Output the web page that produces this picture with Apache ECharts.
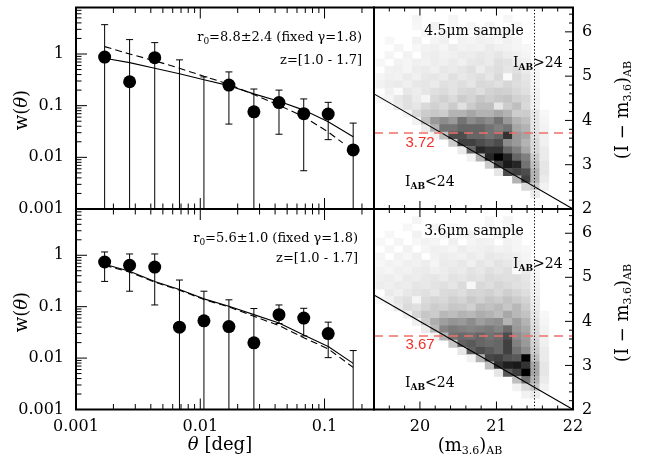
<!DOCTYPE html>
<html><head><meta charset="utf-8">
<script src="https://cdn.jsdelivr.net/npm/echarts@6/dist/echarts.min.js"></script>
<style>html,body{margin:0;padding:0;background:#fff}#c{width:649px;height:464px}</style>
</head><body><div id="c"></div>
<script>
// ---------------- data ----------------
const theta = [0.0017, 0.0027, 0.0043, 0.0068, 0.0107, 0.017, 0.027, 0.043, 0.068, 0.107, 0.17];

// 4.5um sample (top)
const w45   = [0.87, 0.29, 0.85, null, null, 0.25, 0.076, 0.115, 0.070, 0.069, 0.0139];
const w45Hi = [3.7, 1.9, 1.66, 0.77, 0.36, 0.45, 0.21, 0.20, 0.135, 0.116, 0.046];
const w45Lo = [0, 0, 0, 0, 0, 0.044, 0, 0.028, 0.0055, 0.022, 0];
const fitSolid45 = [0.83, 0.68, 0.53, 0.415, 0.318, 0.244, 0.169, 0.122, 0.082, 0.049, 0.025];
const thetaDash45 = [0.0017, 0.0027, 0.0043, 0.0068, 0.0107, 0.017, 0.027, 0.043, 0.068, 0.107, 0.14];
const fitDash45 = [1.39, 1.0, 0.74, 0.53, 0.37, 0.26, 0.164, 0.102, 0.061, 0.031, 0.019];

// 3.6um sample (bottom)
const w36   = [0.74, 0.64, 0.59, 0.040, 0.053, 0.041, 0.0198, 0.070, 0.060, 0.030, null];
const w36Hi = [1.16, 1.06, 1.06, 0.33, 0.20, 0.136, 0.092, 0.108, 0.093, 0.050, 0.014];
const w36Lo = [0.31, 0.20, 0.108, 0, 0, 0, 0, 0.047, 0.027, 0.0102, 0];
const fitSolid36 = [0.67, 0.49, 0.31, 0.216, 0.142, 0.102, 0.070, 0.048, 0.028, 0.0168, 0.0079];
const fitDash36  = [0.64, 0.47, 0.30, 0.21, 0.138, 0.099, 0.065, 0.043, 0.025, 0.0151, 0.0066];

// colour cut values
const cut45 = 3.72;
const cut36 = 3.67;
const IAB_LIMIT = 24;
const magCompleteness = 21.5;

// density maps (rows from top to bottom, columns from faint-left to right), relative density 0-100
const hm45 = [
 [0,0,0,0,0,0,0,0,0,0,0,0,0,0,0,0,0,0,0],
 [0,0,0,0,4,0,0,0,4,0,0,0,0,0,3,0,0,0,0],
 [0,0,0,0,3,0,5,0,4,0,3,0,4,0,0,3,0,0,0],
 [0,0,0,0,0,3,0,5,0,3,0,6,0,4,5,0,0,0,0],
 [0,3,0,0,5,0,4,6,0,5,4,6,5,3,6,4,0,0,0],
 [0,0,4,0,3,5,6,4,7,5,6,5,8,6,5,4,3,0,0],
 [0,4,0,5,0,6,7,5,6,8,7,9,8,10,7,6,4,0,0],
 [3,0,5,4,6,5,7,6,8,6,9,10,8,12,11,8,6,0,0],
 [0,5,6,4,7,8,6,9,8,10,12,7,11,13,10,12,8,3,0],
 [4,6,5,8,6,9,10,8,12,9,11,13,10,15,2,14,10,4,0],
 [5,7,8,6,9,10,8,12,11,13,10,15,14,12,16,13,11,4,0],
 [0,6,2,9,7,10,12,14,11,15,16,13,17,19,18,15,12,5,0],
 [3,4,9,12,8,4,15,18,14,20,17,22,19,21,23,18,16,6,0],
 [0,2,8,12,10,15,18,15,20,12,20,25,25,10,20,25,15,5,0],
 [0,0,0,5,15,20,22,20,30,30,35,30,30,35,30,20,20,10,3],
 [0,0,0,0,5,25,40,45,40,55,45,50,45,55,40,30,25,10,4],
 [0,0,0,0,0,8,30,55,55,60,60,60,55,50,55,35,30,10,5],
 [0,0,0,0,0,0,5,25,70,70,60,60,55,60,80,40,35,12,6],
 [0,0,0,0,0,0,0,0,20,75,75,70,65,70,45,40,30,15,6],
 [0,0,0,0,0,0,0,0,0,8,60,85,80,80,60,50,35,15,8],
 [0,0,0,0,0,0,0,0,0,0,5,30,85,100,85,60,50,20,8],
 [0,0,0,0,0,0,0,0,0,0,0,0,20,75,90,85,55,25,10],
 [0,0,0,0,0,0,0,0,0,0,0,0,0,10,70,75,70,30,10],
 [0,0,0,0,0,0,0,0,0,0,0,0,0,0,0,30,75,30,8],
 [0,0,0,0,0,0,0,0,0,0,0,0,0,0,0,0,15,20,5],
 [0,0,0,0,0,0,0,0,0,0,0,0,0,0,0,0,0,8,0],
 [0,0,0,0,0,0,0,0,0,0,0,0,0,0,0,0,0,0,0]
];
const hm36 = [
 [0,0,0,0,0,0,0,0,0,0,0,0,0,0,0,0,0,0,0],
 [0,0,0,0,4,0,0,0,0,0,0,0,3,0,4,0,0,0,0],
 [0,0,0,3,0,0,4,0,3,0,0,0,4,0,3,0,0,0,0],
 [0,3,0,0,5,0,0,4,0,3,5,0,0,4,0,5,0,0,0],
 [3,0,4,0,3,5,4,0,6,0,4,6,5,0,5,4,0,0,0],
 [0,4,0,5,0,4,6,5,4,7,5,6,7,5,6,4,3,0,0],
 [4,0,5,3,6,0,5,7,6,5,8,6,9,8,7,6,4,0,0],
 [3,5,4,6,5,7,4,8,7,9,6,10,8,11,9,7,5,0,0],
 [5,4,6,5,7,8,6,7,9,8,11,9,12,10,12,2,8,3,0],
 [6,7,5,8,7,9,10,8,11,10,12,11,14,13,12,13,10,4,0],
 [7,6,8,7,10,9,11,12,10,14,3,15,13,16,14,12,11,5,0],
 [0,8,6,9,11,12,10,14,15,13,17,16,18,15,19,16,13,6,0],
 [3,5,10,12,4,14,16,15,19,17,21,18,22,20,24,20,17,7,0],
 [0,2,8,14,12,16,20,18,22,21,18,26,24,27,22,28,20,8,0],
 [0,0,0,6,16,22,20,28,26,30,28,32,30,26,34,28,24,10,3],
 [0,0,0,0,6,20,32,38,42,40,45,38,42,44,30,38,30,12,4],
 [0,0,0,0,0,8,28,48,52,50,48,50,52,48,58,40,34,14,5],
 [0,0,0,0,0,0,5,30,55,58,56,60,55,58,70,45,38,15,6],
 [0,0,0,0,0,0,0,0,22,62,65,60,58,60,75,50,40,18,6],
 [0,0,0,0,0,0,0,0,0,10,62,70,65,60,75,55,45,20,8],
 [0,0,0,0,0,0,0,0,0,0,5,30,72,75,68,65,100,25,8],
 [0,0,0,0,0,0,0,0,0,0,0,0,25,80,88,90,80,35,10],
 [0,0,0,0,0,0,0,0,0,0,0,0,0,10,65,75,100,35,10],
 [0,0,0,0,0,0,0,0,0,0,0,0,0,0,0,25,55,30,8],
 [0,0,0,0,0,0,0,0,0,0,0,0,0,0,0,5,15,22,5],
 [0,0,0,0,0,0,0,0,0,0,0,0,0,0,0,0,5,8,0],
 [0,0,0,0,0,0,0,0,0,0,0,0,0,0,0,0,0,0,0]
];

// tick values
const logMajorX = [0.001, 0.01, 0.1];
const logMajorY = [0.001, 0.01, 0.1, 1];
const magMajor = [20, 21, 22];
const colMajor = [2, 3, 4, 5, 6];

// ---------------- layout / style constants ----------------
const HM_X0 = 19.42, HM_DX = 0.119, HM_Y0 = 2.097, HM_DY = 0.165;
const SERIF = 'DejaVu Serif';
const TH_RANGE = [0.001, 0.25];
const W_RANGE = [0.001, Math.pow(10, 0.9)];
const MAG_RANGE = [19.4, 22];
const COL_RANGE = [2, 6.55];

function minorLog(from, to) {
  const out = [];
  for (let e = from; e <= to; e++) for (let m = 2; m <= 9; m++) out.push(Number((m * Math.pow(10, e)).toPrecision(2)));
  return out;
}
const logMinorX = minorLog(-3, -1).filter(v => v < TH_RANGE[1]);
const logMinorY = minorLog(-3, 0).filter(v => v < W_RANGE[1]);
function minorLin(a, b, step, skip) {
  const out = [];
  for (let v = a; v <= b + 1e-9; v += step) { const r = Math.round(v * 10) / 10; if (!skip.includes(r)) out.push(r); }
  return out;
}
const magMinor = minorLin(19.6, 21.8, 0.2, magMajor);
const colMinor = minorLin(2.2, 6.4, 0.2, colMajor);

function cells(matrix) {
  const out = [];
  const n = matrix.length;
  matrix.forEach((row, r) => {
    const k = n - 1 - r;
    row.forEach((v, i) => { if (v > 0) out.push([HM_X0 + HM_DX * (i + 0.5), HM_Y0 + HM_DY * (k + 0.5), v]); });
  });
  return out;
}

function heatSeries(idx, matrix) {
  return {
    type: 'custom', xAxisIndex: idx, yAxisIndex: idx, clip: true, z: 1, silent: true,
    data: cells(matrix),
    renderItem(params, api) {
      const x = api.value(0), y = api.value(1), v = api.value(2);
      const p0 = api.coord([x - HM_DX / 2, y + HM_DY / 2]);
      const p1 = api.coord([x + HM_DX / 2, y - HM_DY / 2]);
      const g = Math.round(255 * (1 - v / 100));
      return { type: 'rect', shape: { x: p0[0], y: p0[1], width: p1[0] - p0[0] + 0.6, height: p1[1] - p0[1] + 0.6 },
        style: { fill: 'rgb(' + g + ',' + g + ',' + g + ')' } };
    }
  };
}

function tickSeries(idx, dim, values, len, sides, ref) {
  return {
    type: 'custom', xAxisIndex: idx, yAxisIndex: idx, clip: false, silent: true, z: 6,
    data: values.map(v => dim === 'x' ? [v, ref] : [ref, v]),
    renderItem(params, api) {
      const cs = params.coordSys;
      const p = api.coord([api.value(0), api.value(1)]);
      const st = { stroke: '#000', lineWidth: 1 };
      const ch = [];
      if (dim === 'x') {
        const b = cs.y + cs.height;
        if (sides.indexOf('b') >= 0) ch.push({ type: 'line', shape: { x1: p[0], y1: b, x2: p[0], y2: b - len }, style: st });
        if (sides.indexOf('t') >= 0) ch.push({ type: 'line', shape: { x1: p[0], y1: cs.y, x2: p[0], y2: cs.y + len }, style: st });
      } else {
        const r = cs.x + cs.width;
        if (sides.indexOf('l') >= 0) ch.push({ type: 'line', shape: { x1: cs.x, y1: p[1], x2: cs.x + len, y2: p[1] }, style: st });
        if (sides.indexOf('r') >= 0) ch.push({ type: 'line', shape: { x1: r, y1: p[1], x2: r - len, y2: p[1] }, style: st });
      }
      return { type: 'group', children: ch };
    }
  };
}

function errorSeries(idx, xs, lo, hi) {
  return {
    type: 'custom', xAxisIndex: idx, yAxisIndex: idx, clip: true, z: 3, silent: true,
    encode: { x: 0, y: 2 },
    data: xs.map((t, i) => [t, lo[i], hi[i]]),
    renderItem(params, api) {
      const cs = params.coordSys;
      const x = api.value(0), l = api.value(1), h = api.value(2);
      const top = api.coord([x, h]);
      const px = top[0];
      const by = l > 0 ? api.coord([x, l])[1] : cs.y + cs.height;
      const st = { stroke: '#000', lineWidth: 1 };
      const cap = 3.5;
      const ch = [
        { type: 'line', shape: { x1: px, y1: top[1], x2: px, y2: by }, style: st },
        { type: 'line', shape: { x1: px - cap, y1: top[1], x2: px + cap, y2: top[1] }, style: st }
      ];
      if (l > 0) ch.push({ type: 'line', shape: { x1: px - cap, y1: by, x2: px + cap, y2: by }, style: st });
      return { type: 'group', children: ch };
    }
  };
}

function lineSeries(idx, xs, ys, dashed) {
  return {
    type: 'line', xAxisIndex: idx, yAxisIndex: idx, z: 4, silent: true, symbol: 'none',
    data: xs.map((t, i) => [t, ys[i]]),
    lineStyle: { color: '#000', width: 1.1, type: dashed ? [7, 4] : 'solid', opacity: 1 }
  };
}
function pointSeries(idx, xs, ys) {
  return {
    type: 'scatter', xAxisIndex: idx, yAxisIndex: idx, z: 5, silent: true, symbol: 'circle', symbolSize: 13,
    itemStyle: { color: '#000', opacity: 1, borderWidth: 0 },
    data: xs.map((t, i) => [t, ys[i]])
  };
}
function limitSeries(idx, cut) {
  return {
    type: 'line', xAxisIndex: idx, yAxisIndex: idx, z: 4, silent: true, symbol: 'none',
    data: MAG_RANGE.map(m => [m, IAB_LIMIT - m]),
    lineStyle: { color: '#000', width: 1.1, opacity: 1 },
    markLine: {
      silent: true, symbol: ['none', 'none'], label: { show: false }, animation: false,
      data: [
        { xAxis: magCompleteness, lineStyle: { color: '#000', width: 1, type: [1.3, 2], opacity: 1 } },
        { yAxis: cut, lineStyle: { color: '#f0706a', width: 1.6, type: [9, 6], opacity: 1 } }
      ]
    }
  };
}

function logFmt(v) {
  const l = Math.log10(v);
  if (Math.abs(l - Math.round(l)) > 1e-6) return '';
  return String(Number(v.toPrecision(1)));
}
const lab = { color: '#000', fontFamily: SERIF, fontSize: 16 };
const off = { axisLine: { show: false }, axisTick: { show: false }, splitLine: { show: false }, minorTick: { show: false } };

function logX(g, showLabel) {
  return Object.assign({ gridIndex: g, type: 'log', logBase: 10, min: TH_RANGE[0], max: TH_RANGE[1],
    axisLabel: Object.assign({ show: showLabel, formatter: logFmt, margin: 9, showMaxLabel: false }, lab) }, off);
}
function logY(g) {
  return Object.assign({ gridIndex: g, type: 'log', logBase: 10, min: W_RANGE[0], max: W_RANGE[1],
    axisLabel: Object.assign({ show: true, formatter: logFmt, margin: 12, showMaxLabel: false }, lab) }, off);
}
function magX(g, showLabel) {
  return Object.assign({ gridIndex: g, type: 'value', min: MAG_RANGE[0], max: MAG_RANGE[1],
    axisLabel: Object.assign({ show: showLabel, customValues: magMajor, formatter: v => String(v), margin: 9 }, lab) }, off);
}
function colY(g) {
  return Object.assign({ gridIndex: g, type: 'value', position: 'right', min: COL_RANGE[0], max: COL_RANGE[1],
    axisLabel: Object.assign({ show: true, customValues: colMajor, formatter: v => String(v), margin: 9 }, lab) }, off);
}

const gridBase = { show: true, borderColor: '#000', borderWidth: 2, backgroundColor: 'transparent', z: 8, outerBoundsMode: 'none', containLabel: false };

const txt = (x, y, text, extra) => ({
  type: 'text', x: x, y: y, z: 100, silent: true,
  rotation: extra && extra.rot || 0,
  style: Object.assign({ text: text, fill: '#000', fontFamily: SERIF, fontSize: 18, align: 'center', verticalAlign: 'middle' }, extra && extra.style || {})
});
const richAxis = {
  i: { fontFamily: SERIF, fontSize: 18, fontStyle: 'italic' },
  s: { fontFamily: SERIF, fontSize: 11, padding: [10, 0, 0, 0] }
};
const richSmall = {
  s: { fontFamily: SERIF, fontSize: 9, padding: [8, 0, 0, 0] },
  b: { fontFamily: SERIF, fontSize: 9, fontWeight: 'bold', padding: [9, 0, 0, 0] }
};

const option = {
  animation: false,
  backgroundColor: '#fff',
  grid: [
    Object.assign({ left: 76, top: 7.5, width: 298, height: 201.5 }, gridBase),
    Object.assign({ left: 76, top: 209, width: 298, height: 200.5 }, gridBase),
    Object.assign({ left: 374, top: 7.5, width: 199, height: 201.5 }, gridBase),
    Object.assign({ left: 374, top: 209, width: 199, height: 200.5 }, gridBase)
  ],
  xAxis: [logX(0, false), logX(1, true), magX(2, false), magX(3, true)],
  yAxis: [logY(0), logY(1), colY(2), colY(3)],
  series: [
    // top-left
    errorSeries(0, theta, w45Lo, w45Hi),
    lineSeries(0, theta, fitSolid45, false),
    lineSeries(0, thetaDash45, fitDash45, true),
    pointSeries(0, theta, w45),
    // bottom-left
    errorSeries(1, theta, w36Lo, w36Hi),
    lineSeries(1, theta, fitSolid36, false),
    lineSeries(1, theta, fitDash36, true),
    pointSeries(1, theta, w36),
    // right panels
    heatSeries(2, hm45),
    limitSeries(2, cut45),
    heatSeries(3, hm36),
    limitSeries(3, cut36),
    // ticks left panels
    tickSeries(0, 'x', logMajorX, 11, 'bt', 1), tickSeries(0, 'x', logMinorX, 5.5, 'bt', 1),
    tickSeries(0, 'y', logMajorY, 11, 'l', 0.01), tickSeries(0, 'y', logMinorY, 5.5, 'l', 0.01),
    tickSeries(1, 'x', logMajorX, 11, 'bt', 1), tickSeries(1, 'x', logMinorX, 5.5, 'bt', 1),
    tickSeries(1, 'y', logMajorY, 11, 'l', 0.01), tickSeries(1, 'y', logMinorY, 5.5, 'l', 0.01),
    // ticks right panels
    tickSeries(2, 'x', magMajor, 8, 'bt', 3), tickSeries(2, 'x', magMinor, 4, 'bt', 3),
    tickSeries(2, 'y', colMajor, 8, 'r', 20), tickSeries(2, 'y', colMinor, 4, 'r', 20),
    tickSeries(3, 'x', magMajor, 8, 'bt', 3), tickSeries(3, 'x', magMinor, 4, 'bt', 3),
    tickSeries(3, 'y', colMajor, 8, 'r', 20), tickSeries(3, 'y', colMinor, 4, 'r', 20)
  ],
  graphic: [
    txt(22, 110, 'w({i|θ})', { rot: Math.PI / 2, style: { rich: richAxis } }),
    txt(22, 312, 'w({i|θ})', { rot: Math.PI / 2, style: { rich: richAxis } }),
    txt(220, 445, '{i|θ} [deg]', { style: { rich: richAxis } }),
    txt(470, 446, '(m{s|3.6}){s|AB}', { style: { rich: richAxis } }),
    txt(623, 110, '(I − m{s|3.6}){s|AB}', { rot: Math.PI / 2, style: { rich: richAxis } }),
    txt(623, 313, '(I − m{s|3.6}){s|AB}', { rot: Math.PI / 2, style: { rich: richAxis } }),
    txt(362, 38, 'r{s|0}=8.8±2.4 (fixed γ=1.8)', { style: { fontSize: 13, align: 'right', rich: richSmall } }),
    txt(362, 61, 'z=[1.0 - 1.7]', { style: { fontSize: 13, align: 'right' } }),
    txt(358, 239, 'r{s|0}=5.6±1.0 (fixed γ=1.8)', { style: { fontSize: 13, align: 'right', rich: richSmall } }),
    txt(358, 259, 'z=[1.0 - 1.7]', { style: { fontSize: 13, align: 'right' } }),
    txt(474, 31, '4.5μm sample', { style: { fontSize: 14 } }),
    txt(474, 231, '3.6μm sample', { style: { fontSize: 14 } }),
    txt(513, 63, 'I{b|AB}>24', { style: { fontSize: 14, align: 'left', rich: richSmall } }),
    txt(513, 264, 'I{b|AB}>24', { style: { fontSize: 14, align: 'left', rich: richSmall } }),
    txt(405, 182, 'I{b|AB}<24', { style: { fontSize: 14, align: 'left', rich: richSmall } }),
    txt(405, 383, 'I{b|AB}<24', { style: { fontSize: 14, align: 'left', rich: richSmall } }),
    txt(420, 143, String(cut45), { style: { fontSize: 15, fontFamily: 'Liberation Sans', fill: '#f0302a' } }),
    txt(420, 345, String(cut36), { style: { fontSize: 15, fontFamily: 'Liberation Sans', fill: '#f0302a' } })
  ]
};

const chart = echarts.init(document.getElementById('c'), null, { renderer: 'canvas' });
chart.setOption(option);
</script>
</body></html>
